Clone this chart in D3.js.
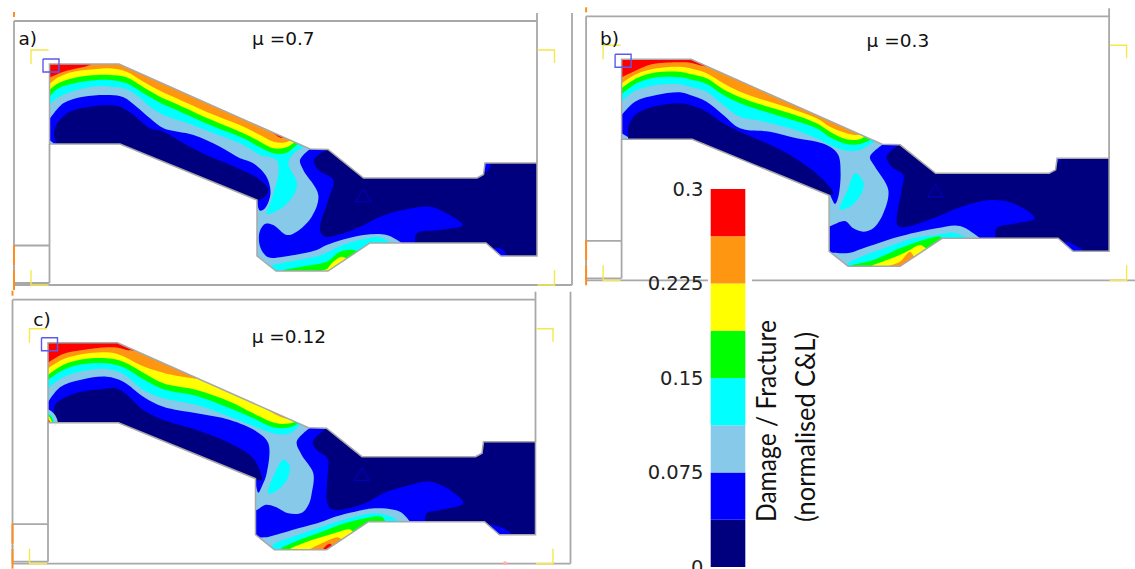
<!DOCTYPE html>
<html>
<head>
<meta charset="utf-8">
<style>
  html, body { margin: 0; padding: 0; background: #fff; overflow: hidden; }
  svg { display: block; }
</style>
<script src="https://cdn.jsdelivr.net/npm/d3@7"></script>
</head>
<body>
<div id="chart"></div>
<script>
/* ------------------------------------------------------------
   Colour levels, legend
------------------------------------------------------------ */
const LEVEL_COLORS = ["#00007f", "#0000ff", "#87c9e8", "#00ffff", "#00ff00", "#ffff00", "#ff9612", "#ff0000"];
const LEVEL_STEP = 0.0375;
const TICK_VALUES = [0, 0.075, 0.15, 0.225, 0.3];
const TICK_LABELS = ["0", "0.075", "0.15", "0.225", "0.3"];
const LEGEND_TITLE = ["Damage / Fracture", "(normalised C&L)"];

/* ------------------------------------------------------------
   Panels. Every contour is in model units, measured from the
   top left corner of the part outline
------------------------------------------------------------ */
const PANEL_LETTERS = ["a)", "b)", "c)"];
const PANEL_MU = ["\u03bc =0.7", "\u03bc =0.3", "\u03bc =0.12"];
const PANEL_X = [49.5, 621.6, 48];
const PANEL_Y = [64, 59.3, 342.7];
const LETTER_POS = [[-31, -19], [-21.6, -14.3], [-14.7, -16.7]];
const MU_POS = [[202.5, -19], [245, -12], [203.7, 0]];

const OUTLINE = [[0,0],[69.5,0],[260.5,85],[278.5,85.5],[314,114],[427.5,114],[434,110.5],[435.5,99],[487.5,99],[487.5,192],[451.5,192],[436.5,179],[320.5,179],[278.5,207],[226.5,207],[207.5,192],[207.5,136],[70.5,80],[0,80]];
const TRIANGLE = [[314,125],[306,137.7],[321.5,137.7]];

// frame of the tool, as polylines
const FRAME_LINES = [
  [[-35.5,-43],[487.5,-43]],
  [[487.5,-51],[487.5,99]],
  [[-35.5,-43],[-35.5,221]],
  [[-35.5,221],[522.5,221]],
  [[0,80],[0,219]],
  [[-35.5,181.5],[0,181.5]],
  [[-35.5,219],[0,219]]
];
const FRAME_OUTER_RIGHT = [[522.5,-51],[522.5,221]];
const YELLOW_MARKS = [
  [[-18.5,0],[-18.5,-14],[-1,-14]],
  [[-18.5,206],[-18.5,221],[-1,221]],
  [[488,-14],[505,-14],[505,-1]],
  [[488,221],[505,221],[505,206]]
];
const ORANGE_MARKS = [
  [[-35.5,-52],[-35.5,-47]],
  [[-35.5,181],[-35.5,201]],
  [[-35.5,203],[-35.5,204]],
  [[-35.5,206],[-35.5,226]]
];
const CORNER_BOX = [[-6.5,-5],[9.5,-5],[9.5,8],[-6.5,8],[-6.5,-5]];

// closing points that lie outside the part
const CAP_TOP = [[262,-8],[-8,-8]];
const CAP_BOTTOM = [[345,222],[222,222]];

/* ---------- panel a ---------- */
const aRedTop = [[0,13.7],[14,7.7],[40.5,1],[44,-2]];
const aRedSide = [[209,61],[222,68],[232,74],[236,71],[215,56]];
const aOrange = [[0,20],[8.8,13.3],[23.8,7.7],[47.2,5],[60.5,4.3],[77,7.7],[94,17.7],[110.5,26.7],[127,34.3],[160.5,49.3],[194,62.7],[210.5,71],[224,77.7],[234,78.7],[242,76]];
const aYellow = [[0,26],[8.8,19.3],[27.2,13.3],[47.2,11],[60.5,11],[77,13.3],[94,23.3],[110.5,32.7],[127,40],[160.5,55.3],[194,69.3],[210.5,77.7],[224,84.3],[237,83.3],[245.5,77.7]];
const aGreen = [[0,32.7],[8.8,24.3],[27.2,18.7],[47.2,16],[60.5,16],[77,19.3],[94,29.3],[110.5,38.7],[127,46],[160.5,61],[194,74.3],[210.5,83.3],[224,89.3],[237,88.7],[249,79.3]];
const aCyan = [[0,41],[7,34.3],[27.2,26],[50.5,22],[60.5,22.7],[74,24.3],[87,31],[100.5,42.7],[114,51],[134,57.7],[160.5,67.7],[194,81],[210.5,91],[227,96],[228.8,109.3],[222,136],[217,150],[233.8,142.7],[246,127.7],[247.2,117.7],[238.8,99.3],[243.8,90],[253.8,83.3]];
const aBlueUp = [[0,55.3],[13.8,39.3],[33.8,32.7],[60.5,31],[74,33.3],[87,42.7],[100.5,54.3],[114,64.3],[144,71],[170.5,82.7],[190.5,94.3],[203.8,99.3],[217,112.7],[221,129.3],[215.5,144.3],[210.5,146.7],[207,136]];
const aBlueUpCap = [[200,150],[70,100],[6,100],[5,80],[0,76],[-8,76]];
const aNavyUp = [[7.8,81],[4.5,69.3],[8.8,57.7],[20.5,47.7],[40.5,42.7],[60.5,41],[70.5,42.7],[84,51],[100.5,64.3],[114,67.7],[134,79.3],[160.5,92.7],[177.2,99.3],[210.5,116],[218.8,126],[213.8,134.3],[207,137]];
const aNavyUpCap = [[200,150],[70,100],[8,100]];
const aBlueLow = [[260.5,85],[250.5,96],[253.8,106],[268.8,131],[262.2,152.7],[247.2,167.7],[237.2,171],[223.8,161],[215.5,160],[209.8,169.3],[211.2,184.3],[218.8,193.3],[233.8,192.7],[267.2,186],[277.2,181],[313.8,171],[337.2,171],[352.2,179]];
const aBlueLowCap = [[360,200],[495,200],[495,-8],[262,-8]];
const aNavyLow = [[277.8,85],[264.5,96],[268.8,106],[283.8,116],[278.8,136],[270.5,166],[275.5,172.7],[307.2,164.3],[330.5,152.7],[353.8,146],[380.5,142.7],[393.8,147.7],[413.2,161],[390.5,166],[367.2,169.3],[365.5,179]];
const aNavyLowCap = [[370,200],[495,200],[495,-8],[280,-8]];
const aBluePatchTop = [[436,98],[441,98],[439,106],[435,108]];
const aBluePatchLow = [[445.5,184],[454,186],[457,193],[451,193]];
const aCyanLow = [[222.2,201.3],[233.8,198.7],[268.8,192],[278.8,187.7],[293.8,181],[313.8,175.3],[330.5,173.3],[339.8,178]];
const aGreenLow = [[233.8,206],[257.2,201.7],[277.2,197.7],[290.5,187.7],[303.8,186],[309,188]];
const aYellowLow = [[277.8,205],[283.8,197.7],[292.2,192.7],[296,194]];

/* ---------- panel b ---------- */
const bRed = [[0,18],[11.7,12.4],[30,5],[55,3],[68.4,3.4],[81.7,6.7],[85,7]];
const bOrange = [[0,24],[15,14.7],[35,9],[58.4,7.4],[68.4,9],[85,14],[101.7,24],[118.4,32.4],[135,38.4],[168.4,49],[195,59],[208.4,67.4],[225,74],[233.4,75.7],[241.7,75.7]];
const bYellow = [[0,29],[15,19],[35,13],[58.4,12.5],[68.4,14.7],[85,19],[101.7,30],[118.4,38],[135,44],[168.4,54],[195,64],[208.4,72.4],[225,80],[238.4,80],[243.4,76.7]];
const bGreen = [[0,35],[15,24],[35,18],[58.4,18],[68.4,20],[85,24.7],[101.7,35.7],[118.4,44],[135,49.7],[168.4,60],[195,69],[208.4,78],[225,84.7],[238.4,84.7],[250,80]];
const bCyan = [[0,42.4],[11.7,32.4],[35,25.7],[58.4,25],[68.4,27.4],[85,32.4],[101.7,45.7],[118.4,57.4],[135,60.7],[168.4,69],[195,79],[208.4,85.7],[225,91.4],[238.4,90.7],[255,80.7]];
const bCyanBlob = [[218.4,150],[226.7,129],[233.4,114],[241.7,122.4],[240,134],[228.4,147.4]];
const bBlueUp = [[0,55.7],[13.4,42.4],[35,35.7],[58.4,33],[68.4,35.7],[85,42.4],[101.7,55.7],[118.4,69],[148.4,72.4],[175,79],[195,82.4],[208.4,87.4],[216.7,95.7],[219,114],[216.7,137.4],[213.4,144.7],[208,134]];
const bBlueUpCap = [[200,150],[70,100],[7,100],[6.7,78],[0,74],[-8,74]];
const bNavyUp = [[6.7,79],[6.7,67.4],[13.4,55.7],[31.7,47.4],[58.4,44],[68.4,45.7],[85,52.4],[101.7,64],[118.4,72.4],[145,84],[168.4,95.7],[198.4,117.4],[211.7,134],[207,136]];
const bNavyUpCap = [[200,150],[70,100],[8,100]];
const bBlueLow = [[261.7,85],[248.4,97.4],[253.4,107.4],[266.7,130.7],[261.7,154],[251.7,169],[241.7,172.4],[231.7,169],[223.4,161.7],[209,166.7],[205,168],[205,192],[211.7,193.4],[228.4,193.4],[241.7,189],[275,178],[315,169],[338.4,166.7],[358.4,179]];
const bBlueLowCap = [[360,200],[495,200],[495,-8],[262,-8]];
const bNavyLow = [[278.4,85],[265,97.4],[270,107.4],[281.7,115.7],[280,130.7],[275.7,165.7],[281.7,168],[311.7,159],[338.4,148],[368.4,140.7],[391.7,144],[413.4,159],[395,164],[375,169],[374,179]];
const bNavyLowCap = [[380,200],[495,200],[495,-8],[280,-8]];
const bBluePatchTop = [[435.7,98],[439,98],[439,100.5],[435,103]];
const bBluePatchLow = [[443.4,182.4],[448.4,183.4],[461.7,192],[451.7,193]];
const bCyanLow = [[223.4,205.7],[231.7,200.7],[271.7,185.7],[291.7,179],[315,175.7],[331.7,173.4],[345,178]];
const bGreenLow = [[230,205.7],[251.7,200.7],[278.4,189],[301.7,180.7],[318.4,177.4],[322,180]];
const bYellowLow = [[251.7,205.7],[270,199],[285,192.4],[298.4,185.7],[303,188]];
const bOrangeLow = [[270,205.7],[278.4,202.4],[288.4,192.4],[292,197]];

/* ---------- panel c ---------- */
const cRed = [[0,20],[15,11.3],[35,7.3],[58.7,4.6],[70,5],[80,7.5],[88,8]];
const cOrange = [[0,25.6],[15,16.6],[35,11.3],[58.7,9.6],[72,12.3],[95.3,23.6],[118.7,31],[148,36]];
const cOrangeSide = [[212,60],[228.7,72.3],[242,76],[245,72],[215,54]];
const cYellow = [[0,32.3],[15,22.3],[35,16.6],[58.7,15.6],[75.3,19],[95.3,30],[115.3,40.6],[148.7,47.3],[182,59],[205.3,70.6],[228.7,80.6],[242,80.6],[247,79]];
const cGreen = [[0,37.3],[15,27.3],[35,21.3],[58.7,20.6],[75.3,24.6],[95.3,36.6],[115.3,46.6],[148.7,53.3],[182,65.6],[205.3,75.6],[225.3,84.6],[242,84.6],[250.3,80.6]];
const cCyan = [[0,45.6],[15,34.6],[35,28.3],[58.7,26.3],[75.3,31.3],[95.3,47.3],[115.3,55.6],[148.7,62.3],[182,74],[205.3,83.3],[228.7,91.3],[242,90.6],[252,82.3]];
const cCyanBlob = [[220.3,150.6],[227,130],[235.3,117],[241.5,123],[238.7,137.3],[228.5,148]];
const cBlueUp = [[0.3,59],[12,44.6],[32,37.3],[58.7,34],[75.3,39],[95.3,54],[115.3,64],[148.7,70.6],[182,77.3],[208.7,89],[220.3,100.6],[218.7,130.6],[213.7,144],[210.3,150],[207.5,140]];
const cBlueUpCap = [[200,150],[70,100],[-8,100],[-8,59]];
const cNavyUp = [[7,81],[7,62.3],[25.3,51.3],[52,46.6],[70.3,46.3],[95.3,67.3],[115.3,77.3],[148.7,87.3],[182,100.6],[205.3,115.6],[213.7,137.3],[207,137]];
const cNavyUpCap = [[200,150],[70,100],[8,100]];
const cBlueLow = [[262,85],[248.7,99],[253.7,112.3],[265.3,130.6],[263.7,150.6],[261,161],[254,170],[240.3,170.6],[227,164],[217,162.3],[208.7,167.3],[205,168],[205,193],[217,194.6],[223.7,193.3],[250.3,185.6],[273.7,179],[287,174],[307,169],[327,165.6],[352,169],[362,179]];
const cBlueLowCap = [[370,200],[495,200],[495,-8],[262,-8]];
const cNavyLow = [[279.3,85],[264.7,99],[268.7,107.3],[279.3,115.6],[279.3,137.3],[278.7,157.3],[282,165.6],[290.3,167.3],[317,160.6],[335.3,150.6],[362,142.3],[382,139],[402,147.3],[415.3,160.6],[392,167.3],[378.7,170.6],[377,179]];
const cNavyLowCap = [[385,200],[495,200],[495,-8],[280,-8]];
const cBluePatchLow = [[442,182.3],[455.3,185.6],[463.7,192],[452,193]];
const cCyanLow = [[223.7,204],[227,200.6],[240.3,195.6],[273.7,184],[307,174],[327,170.5],[342,173.5],[350.3,178]];
const cGreenLow = [[233.7,205],[247,199],[273.7,189],[297,180.6],[317,175.6],[333.7,174],[338,180]];
const cYellowLow = [[243.7,205],[257,199.7],[273.7,194.3],[287,190.3],[298.7,186.7],[302,186.6]];
const cOrangeLow = [[263.7,205.6],[273.7,200.6],[285.3,195.6],[290,194.6]];
const cRedLow = [[275,207],[278,203],[282,201],[284,203],[280,207]];
const cSpotBlue = [[-1,67],[4,69],[8,74],[9.5,81],[-1,81]];
const cSpotCyan = [[-1,70],[3,72],[5.5,76],[6.5,81],[-1,81]];
const cSpotGreen = [[-1,71.5],[2.5,73.5],[4.5,77],[5,81],[-1,81]];
const cSpotYellow = [[-1,73],[2,75],[3.5,78],[3.5,81],[-1,81]];
const cSpotRed = [[-1,75],[1,77],[2,81],[-1,81]];
const cPinkDot = [457, 220.6];

// painting order for each panel: [level, contour, closing points]
// closing points null means a small closed blob
const PANEL_BANDS = [
  [
    [1, aBlueLow, aBlueLowCap], [0, aNavyLow, aNavyLowCap],
    [1, aBluePatchTop, null], [1, aBluePatchLow, null],
    [1, aBlueUp, aBlueUpCap], [0, aNavyUp, aNavyUpCap],
    [3, aCyan, CAP_TOP], [4, aGreen, CAP_TOP], [5, aYellow, CAP_TOP], [6, aOrange, CAP_TOP],
    [7, aRedTop, CAP_TOP], [7, aRedSide, null],
    [3, aCyanLow, CAP_BOTTOM], [4, aGreenLow, CAP_BOTTOM], [5, aYellowLow, CAP_BOTTOM]
  ],
  [
    [1, bBlueLow, bBlueLowCap], [0, bNavyLow, bNavyLowCap],
    [1, bBluePatchTop, null], [1, bBluePatchLow, null],
    [1, bBlueUp, bBlueUpCap], [0, bNavyUp, bNavyUpCap],
    [3, bCyan, CAP_TOP], [4, bGreen, CAP_TOP], [5, bYellow, CAP_TOP], [6, bOrange, CAP_TOP], [7, bRed, CAP_TOP],
    [3, bCyanBlob, null],
    [3, bCyanLow, CAP_BOTTOM], [4, bGreenLow, CAP_BOTTOM], [5, bYellowLow, CAP_BOTTOM], [6, bOrangeLow, CAP_BOTTOM]
  ],
  [
    [1, cBlueLow, cBlueLowCap], [0, cNavyLow, cNavyLowCap],
    [1, cBluePatchLow, null],
    [1, cBlueUp, cBlueUpCap], [0, cNavyUp, cNavyUpCap],
    [3, cCyan, CAP_TOP], [4, cGreen, CAP_TOP], [5, cYellow, CAP_TOP],
    [6, cOrange, [[160,-8],[-8,-8]]], [6, cOrangeSide, null], [7, cRed, [[92,-8],[-8,-8]]],
    [3, cCyanBlob, null],
    [2, cSpotBlue, null], [3, cSpotCyan, null], [4, cSpotGreen, null], [5, cSpotYellow, null], [7, cSpotRed, null],
    [3, cCyanLow, CAP_BOTTOM], [4, cGreenLow, CAP_BOTTOM], [5, cYellowLow, CAP_BOTTOM], [6, cOrangeLow, CAP_BOTTOM], [7, cRedLow, null]
  ]
];

/* ------------------------------------------------------------
   Svg
------------------------------------------------------------ */
const WIDTH = 1135;
const HEIGHT = 569;
const GREY = "#a8a8a8";
const LABEL_FONT = "'DejaVu Sans', Verdana, sans-serif";

const svg = d3.select("#chart")
  .append("svg")
  .attr("width", WIDTH)
  .attr("height", HEIGHT);

PANEL_X.forEach((_, i) => drawPanel(i));
drawLegend();

/* ------------------------------------------------------------
   One panel of the simulation
------------------------------------------------------------ */
function drawPanel(i) {
  const x = d3.scaleLinear().domain([0, 487.5]).range([PANEL_X[i], PANEL_X[i] + 487.5]);
  const y = d3.scaleLinear().domain([0, 207]).range([PANEL_Y[i], PANEL_Y[i] + 207]);

  const straight = d3.line().x(d => x(d[0])).y(d => y(d[1]));
  const curved = d3.line().x(d => x(d[0])).y(d => y(d[1])).curve(d3.curveCatmullRom.alpha(0.5));
  const blob = d3.line().x(d => x(d[0])).y(d => y(d[1])).curve(d3.curveCatmullRomClosed.alpha(0.5));

  const g = svg.append("g").attr("class", `panel-${i}`);

  // frame behind everything
  g.selectAll("path.frame")
    .data(FRAME_LINES.concat([FRAME_OUTER_RIGHT]))
    .join("path")
    .attr("class", "frame")
    .attr("d", straight)
    .attr("fill", "none")
    .attr("stroke", GREY)
    .attr("stroke-width", 1.8);

  g.selectAll("path.yellow")
    .data(YELLOW_MARKS)
    .join("path")
    .attr("class", "yellow")
    .attr("d", straight)
    .attr("fill", "none")
    .attr("stroke", "#f4e84a")
    .attr("stroke-width", 1.4);

  g.selectAll("path.orange")
    .data(ORANGE_MARKS)
    .join("path")
    .attr("class", "orange")
    .attr("d", straight)
    .attr("fill", "none")
    .attr("stroke", "#ff8c1e")
    .attr("stroke-width", 2);

  // contour bands, clipped to the part
  g.append("clipPath")
    .attr("id", `part-${i}`)
    .append("path")
    .attr("d", straight(OUTLINE) + "Z");

  const bands = g.append("g").attr("clip-path", `url(#part-${i})`);

  bands.append("path")
    .attr("d", straight(OUTLINE) + "Z")
    .attr("fill", LEVEL_COLORS[2]);

  bands.selectAll("path.band")
    .data(PANEL_BANDS[i])
    .join("path")
    .attr("class", "band")
    .attr("fill", d => LEVEL_COLORS[d[0]])
    .attr("d", d => d[2] ? curved(d[1]) + straight(d[2]).replace("M", "L") + "Z" : blob(d[1]));

  g.append("path")
    .attr("d", straight(OUTLINE) + "Z")
    .attr("fill", "none")
    .attr("stroke", GREY)
    .attr("stroke-width", 1.5);

  g.append("path")
    .attr("d", straight(TRIANGLE) + "Z")
    .attr("fill", "none")
    .attr("stroke", "#0000c8")
    .attr("stroke-width", 1);

  g.append("path")
    .attr("d", straight(CORNER_BOX))
    .attr("fill", "none")
    .attr("stroke", "#5a5af0")
    .attr("stroke-width", 1.4);

  if (i === 2) {
    g.append("circle")
      .attr("cx", x(cPinkDot[0]))
      .attr("cy", y(cPinkDot[1]))
      .attr("r", 2)
      .attr("fill", "#ffb0b0");
  }

  g.append("text")
    .attr("x", x(LETTER_POS[i][0]))
    .attr("y", y(LETTER_POS[i][1]))
    .attr("font-family", LABEL_FONT)
    .attr("font-size", 18.5)
    .attr("fill", "#111")
    .text(PANEL_LETTERS[i]);

  g.append("text")
    .attr("x", x(MU_POS[i][0]))
    .attr("y", y(MU_POS[i][1]))
    .attr("font-family", LABEL_FONT)
    .attr("font-size", 18.5)
    .attr("fill", "#111")
    .text(PANEL_MU[i]);
}

/* ------------------------------------------------------------
   Legend on top of panel b frame
------------------------------------------------------------ */
function drawLegend() {
  const scale = d3.scaleLinear().domain([0, 0.3]).range([567, 189]);
  const g = svg.append("g").attr("class", "legend");

  g.append("rect")
    .attr("x", 708)
    .attr("y", 270)
    .attr("width", 44)
    .attr("height", 20)
    .attr("fill", "#fff");

  g.selectAll("rect.level")
    .data(LEVEL_COLORS)
    .join("rect")
    .attr("class", "level")
    .attr("x", 710.7)
    .attr("width", 34.6)
    .attr("y", (d, i) => scale((i + 1) * LEVEL_STEP))
    .attr("height", (d, i) => scale(i * LEVEL_STEP) - scale((i + 1) * LEVEL_STEP))
    .attr("fill", d => d);

  const axis = d3.axisLeft(scale)
    .tickValues(TICK_VALUES)
    .tickSize(0)
    .tickPadding(0)
    .tickFormat((d, i) => TICK_LABELS[i]);

  const axisG = g.append("g")
    .attr("transform", "translate(703.5,0)")
    .call(axis);
  axisG.select(".domain").remove();
  axisG.selectAll("text")
    .attr("font-family", LABEL_FONT)
    .attr("font-size", 19.5)
    .attr("fill", "#222");

  const titleX = [776, 815];
  const titleLen = [202, 190];
  g.selectAll("text.title")
    .data(LEGEND_TITLE)
    .join("text")
    .attr("class", "title")
    .attr("transform", (d, i) => `translate(${titleX[i]},522) rotate(-90)`)
    .attr("font-family", "Lato, 'Open Sans', sans-serif")
    .attr("font-size", 27)
    .attr("fill", "#111")
    .attr("textLength", (d, i) => titleLen[i])
    .attr("lengthAdjust", "spacingAndGlyphs")
    .text(d => d);
}
</script>
</body>
</html>
